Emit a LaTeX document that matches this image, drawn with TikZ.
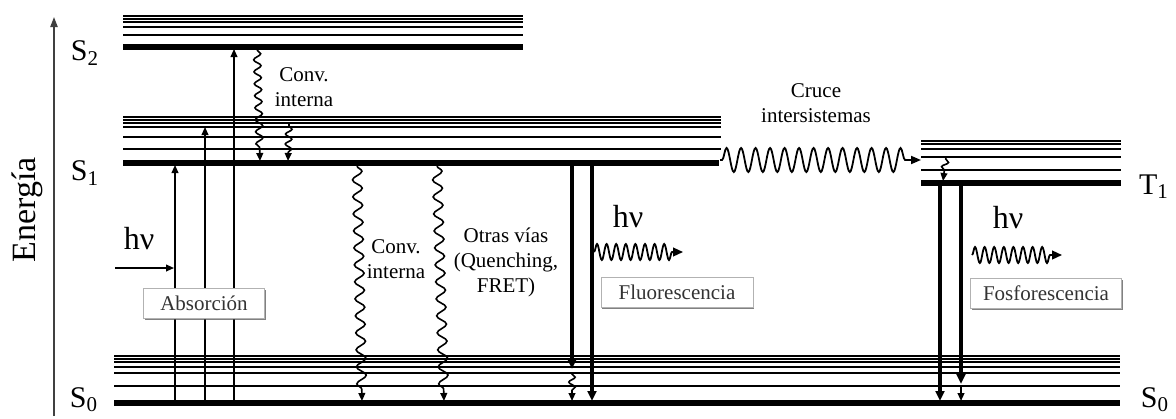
\documentclass[tikz,border=0pt]{standalone}
\usepackage{fontspec}
\setmainfont{Liberation Serif}
\usetikzlibrary{arrows.meta, decorations.pathmorphing, shadows}

\begin{document}
\begin{tikzpicture}[
  x=0.5pt, y=-0.5pt,
  thicklevel/.style={line width=2.6pt},
  viblevel/.style={line width=0.7pt},
  absarr/.style={-{Triangle[length=4pt, width=3.4pt]}, line width=0.7pt},
  emiarr/.style={-{Triangle[length=5pt, width=4.4pt]}, line width=1.7pt},
  relax/.style={-{Triangle[length=4pt, width=3.4pt]}, line width=0.8pt,
                decorate, decoration={snake, amplitude=2.4pt, segment length=8.5pt, post length=4pt}},
  squiggle/.style={relax, decoration={amplitude=1.6pt, segment length=5pt, pre length=1pt, post length=3pt}},
  photon/.style={-{Triangle[length=5pt, width=4.4pt]}, line width=0.9pt,
                 decorate, decoration={snake, amplitude=4pt, segment length=4.8pt, post length=5pt}},
  lvllbl/.style={font=\fontsize{15}{17}\selectfont, inner sep=1pt},
  hvlbl/.style={font=\fontsize{16}{18}\selectfont},
  smalllbl/.style={font=\fontsize{10.5}{12.5}\selectfont, align=center},
  procbox/.style={draw=gray!60, fill=white, text=black!80, font=\fontsize{10.5}{12.5}\selectfont,
                  minimum height=15pt, inner sep=0pt,
                  drop shadow={shadow xshift=0.6pt, shadow yshift=-0.8pt, opacity=0.7, fill=gray!60!black}}
]
\useasboundingbox (0,0) rectangle (1176,418);

% ===== LEVEL HEIGHTS =====
\def\ySdos{47}
\def\ySuno{163}
\def\yTuno{183}
\def\ySo{403}

% ===== ENERGY AXIS =====
\draw[gray!50!black, line width=0.8pt, -{Triangle[length=5pt, width=3.6pt]}] (54,416) -- (54,17);
\node[rotate=90, font=\fontsize{17}{19}\selectfont] (energia) at (27,210) {Energía};

% ===== BANDS =====
\foreach \y in {16,19,22,27,35}
  \draw[viblevel] (123,\y) -- (523,\y);
\draw[thicklevel] (123,\ySdos) -- (523,\ySdos);

\foreach \y in {117,120,123,127,137,149}
  \draw[viblevel] (123,\y) -- (721,\y);
\draw[thicklevel] (123,\ySuno) -- (719,\ySuno);

\foreach \y in {141,144,149,157,170}
  \draw[viblevel] (921,\y) -- (1121,\y);
\draw[thicklevel] (921,\yTuno) -- (1121,\yTuno);

\foreach \y in {356,359,362,367,373,386}
  \draw[viblevel] (114,\y) -- (1120,\y);
\draw[thicklevel] (114,\ySo) -- (1120,\ySo);

\node[lvllbl] (s2lbl) at (85,53) {S\textsubscript{2}};
\node[lvllbl] (s1lbl) at (85,173) {S\textsubscript{1}};
\node[lvllbl] (s0lbl) at (84,400) {S\textsubscript{0}};
\node[lvllbl] (t1lbl) at (1154,187) {T\textsubscript{1}};
\node[lvllbl] (s0rlbl) at (1155,400) {S\textsubscript{0}};

% ===== ABSORPTION =====
\foreach \x/\ytop in {175/165, 205/127, 234/49}
  \draw[absarr] (\x,\ySo) -- (\x,\ytop);
\node[hvlbl] (hvabs) at (139,239) {hν};
\coordinate (hvin) at (115,268);
\draw[absarr] (hvin) -- (174,268);
\node[procbox, minimum width=60.5pt] (absbox) at (204,303) {Absorción};

% ===== INTERNAL CONVERSION / OTHER PATHS =====
\draw[relax, decoration={amplitude=1.8pt, segment length=6pt}] (257,50) -- (260,161);
\draw[squiggle] (289,124) -- (288,161);
\node[smalllbl] (icup) at (304,87) {Conv.\\interna};

\draw[relax] (357,166) -- (362,401);
\node[smalllbl] (iclow) at (396,259) {Conv.\\interna};
\draw[relax] (437,166) -- (444,401);
\node[smalllbl] (otras) at (506,262) {Otras vías\\(Quenching,\\FRET)};

% ===== FLUORESCENCE =====
\draw[emiarr] (572,165) -- (572,369);
\draw[squiggle] (572,372) -- (572,401);
\draw[emiarr] (592,165) -- (592,401);
\node[hvlbl] (hvfluo) at (628,217) {hν};
\draw[photon] (594,252) -- (683,252);
\node[procbox, minimum width=76pt] (fluobox) at (677,292) {Fluorescencia};

% ===== INTERSYSTEM CROSSING =====
\draw[-{Triangle[length=5pt, width=4pt]}, line width=0.9pt, decorate,
      decoration={snake, amplitude=6pt, segment length=7.25pt, pre length=1pt, post length=7pt}]
  (720,160) -- (921,160);
\draw[squiggle] (946,157) -- (943,181);
\node[smalllbl] (isclbl) at (816,103) {Cruce\\intersistemas};

% ===== PHOSPHORESCENCE =====
\draw[emiarr] (940,185) -- (940,401);
\draw[emiarr] (961,185) -- (961,384);
\draw[squiggle] (961,387) -- (961,401);
\node[hvlbl] (hvphos) at (1008,218) {hν};
\draw[photon] (972,255) -- (1062,255);
\node[procbox, minimum width=75.5pt] (phosbox) at (1046,293) {Fosforescencia};

\end{tikzpicture}
\end{document}
